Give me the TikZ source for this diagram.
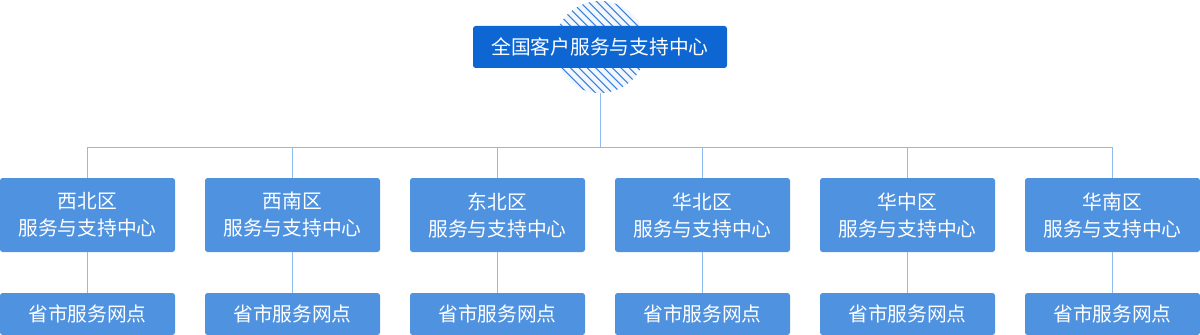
\documentclass[tikz,border=0pt]{standalone}
\usepackage{fontspec}
\newfontfamily\cjk{Noto Sans CJK SC}
\usepackage{tikz}
\usetikzlibrary{positioning}
\definecolor{hqblue}{HTML}{0E66D2}
\definecolor{rgblue}{HTML}{4F92E0}
\definecolor{lnblue}{HTML}{8DBBF0}
\definecolor{hatchblue}{HTML}{3B80DA}
\definecolor{ringbg}{HTML}{F2F6FD}

\begin{document}
\begin{tikzpicture}[
  node distance=30.75pt and 22.5pt,
  hq/.style={fill=hqblue,rounded corners=2pt,minimum width=190.5pt,minimum height=31.5pt,
    inner sep=0pt,outer sep=0pt,text=white,font=\cjk\fontsize{14.8}{20.25}\selectfont},
  region/.style={fill=rgblue,rounded corners=2pt,minimum width=131.25pt,minimum height=55.5pt,
    inner sep=0pt,outer sep=0pt,align=center,text=white,font=\cjk\fontsize{14.8}{20.25}\selectfont},
  outlet/.style={region,minimum height=31.5pt},
  ring/.style={circle,fill=ringbg,minimum size=69pt,inner sep=0pt,outer sep=0pt,
    path picture={\foreach \d in {-11,...,11}
      \draw[hatchblue,line width=0.8pt]
        ([shift={(\d*6.3pt-40pt,40pt)}]path picture bounding box.center) --
        ([shift={(\d*6.3pt+40pt,-40pt)}]path picture bounding box.center);}},
  link/.style={draw=lnblue,line width=0.75pt}]
\useasboundingbox (0,0) rectangle (900pt,-251.25pt);
\node[ring] (hatch) at (450pt,-35.25pt) {};
\node[hq] (hq) at (450pt,-35.25pt) {全国客户服务与支持中心};
\coordinate (bus) at (450pt,-110.25pt);
% regions
\node[region] (nw) at (65.625pt,-161.25pt) {西北区\\服务与支持中心};
\node[region,right=of nw] (sw) {西南区\\服务与支持中心};
\node[region,right=of sw] (ne) {东北区\\服务与支持中心};
\node[region,right=of ne] (nc) {华北区\\服务与支持中心};
\node[region,right=of nc] (cc) {华中区\\服务与支持中心};
\node[region,right=of cc] (sc) {华南区\\服务与支持中心};
% outlets
\node[outlet,below=of nw] (nw-o) {省市服务网点};
\node[outlet,below=of sw] (sw-o) {省市服务网点};
\node[outlet,below=of ne] (ne-o) {省市服务网点};
\node[outlet,below=of nc] (nc-o) {省市服务网点};
\node[outlet,below=of cc] (cc-o) {省市服务网点};
\node[outlet,below=of sc] (sc-o) {省市服务网点};
\draw[link] (hatch) -- (bus);
\draw[link] (nw |- bus) -- (sc |- bus);
\foreach \r in {nw,sw,ne,nc,cc,sc}{
  \draw[link] (\r |- bus) -- (\r);
  \draw[link] (\r) -- (\r-o);
}
\end{tikzpicture}
\end{document}
